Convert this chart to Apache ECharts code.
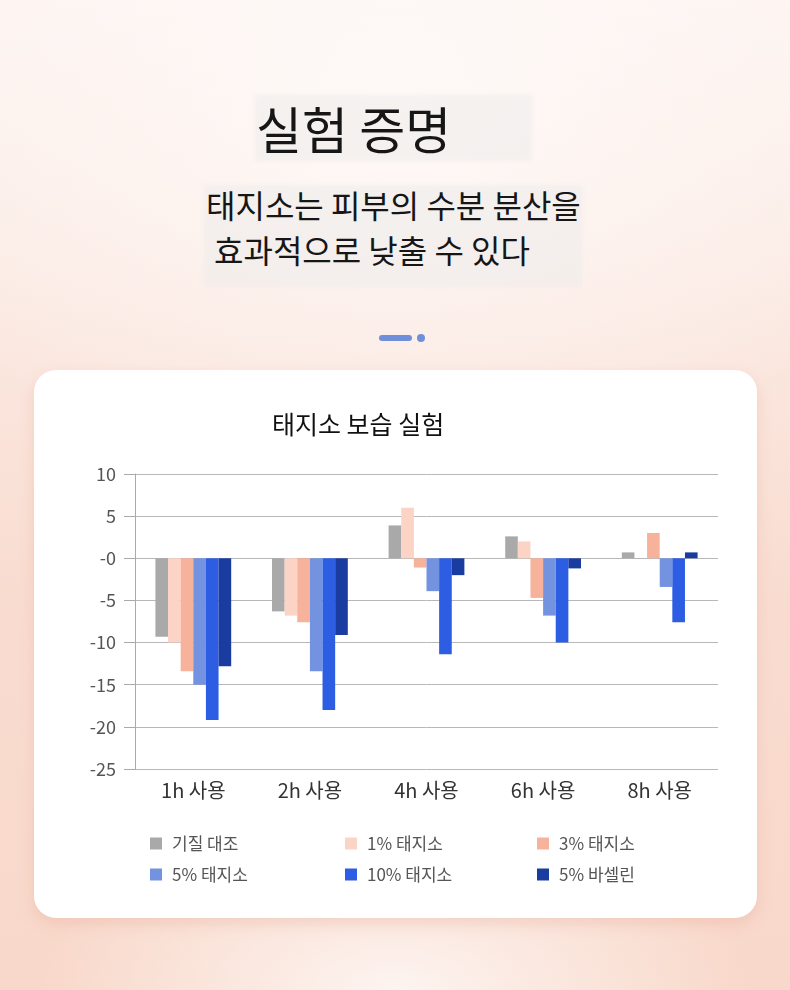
<!DOCTYPE html>
<html><head><meta charset="utf-8">
<script src="https://cdn.jsdelivr.net/npm/echarts@6/dist/echarts.min.js"></script>
<style>
html,body{margin:0;padding:0;width:790px;height:990px;overflow:hidden;}
body{position:relative;font-family:"Noto Sans CJK KR","Noto Sans",sans-serif;
background:
 radial-gradient(ellipse 45% 18% at 50% 100%, rgba(253,244,240,1) 0%, rgba(253,244,240,0) 100%),
 radial-gradient(ellipse 70% 40% at 50% 10%, rgba(254,249,247,1) 0%, rgba(254,249,247,0) 100%),
 linear-gradient(to bottom,#fdf4f1 0%,#fbe9e2 30%,#f9dcd0 60%,#f8d8ca 100%);}
.box{position:absolute;background:rgba(238,236,235,0.6);filter:blur(2px);}
.t{position:absolute;color:#161616;white-space:nowrap;}
#chart{position:absolute;left:34px;top:370px;width:723px;height:548px;background:#fff;border-radius:22px;box-shadow:0 6px 14px rgba(230,170,150,0.35);}
</style></head><body>
<div class="box" style="left:255px;top:95px;width:277px;height:66px;"></div>
<div class="box" style="left:204px;top:185px;width:378px;height:102px;"></div>
<div class="t" style="left:256px;top:94px;font-size:50px;line-height:66px;">실험 증명</div>
<div class="t" style="left:206px;top:183px;font-size:32px;line-height:42px;">태지소는 피부의 수분 분산을</div>
<div class="t" style="left:214px;top:228px;font-size:32px;line-height:42px;">효과적으로 낮출 수 있다</div>
<div style="position:absolute;left:379px;top:335px;width:33px;height:6px;border-radius:3px;background:#6f8fdb;"></div>
<div style="position:absolute;left:417px;top:334px;width:8px;height:8px;border-radius:4px;background:#6f8fdb;"></div>
<div id="chart"></div>
<script>
var categories = ['1h 사용','2h 사용','4h 사용','6h 사용','8h 사용'];
var seriesNames = ['기질 대조','1% 태지소','3% 태지소','5% 태지소','10% 태지소','5% 바셀린'];
var control     = [-9.3, -6.3, 3.9, 2.6, 0.7];
var tz1         = [-10.0, -6.8, 6.0, 2.0, 0];
var tz3         = [-13.4, -7.6, -1.1, -4.7, 3.0];
var tz5         = [-15.0, -13.4, -3.9, -6.8, -3.4];
var tz10        = [-19.2, -18.0, -11.4, -10.0, -7.6];
var vaseline    = [-12.8, -9.1, -2.0, -1.2, 0.7];
var yTicks = {min: -25, max: 10, interval: 5};

var colors = ['#a9a9a9','#fcd4c5','#f6b29b','#7393e0','#2c5de3','#1a3ba0'];
var seriesData = [control, tz1, tz3, tz5, tz10, vaseline];

var chart = echarts.init(document.getElementById('chart'), null, {renderer:'canvas'});
var font = '"Noto Sans CJK KR","Noto Sans",sans-serif';
var legendPos = [[111,460],[306,460],[498,460],[111,491],[306,491],[498,491]];
var legends = seriesNames.map(function(n,i){
  return {data:[n], left: legendPos[i][0], top: legendPos[i][1], icon:'rect',
    itemWidth:12, itemHeight:12, itemGap:0,
    textStyle:{fontFamily:font,fontSize:17,color:'#555',padding:[0,0,0,5]}};
});
chart.setOption({
  animation:false,
  color: colors,
  title:{text:'태지소 보습 실험', left:233, top:37,
    textStyle:{fontFamily:font,fontSize:25,fontWeight:'normal',color:'#111'}},
  legend: legends,
  grid:{left:101,right:39,top:104,bottom:149,containLabel:false},
  xAxis:{type:'category',data:categories,
    axisLine:{show:false},axisTick:{show:false},
    axisLabel:{fontFamily:font,fontSize:20,color:'#333',margin:11}},
  yAxis:{type:'value',min:yTicks.min,max:yTicks.max,interval:yTicks.interval,
    axisLine:{show:true,lineStyle:{color:'#aaa'}},
    axisTick:{show:true,length:11,lineStyle:{color:'#aaa'}},
    splitLine:{lineStyle:{color:'#b8b8b8',width:1}},
    axisLabel:{fontFamily:font,fontSize:18,color:'#555',margin:19,
      formatter:function(v){return v===0?'-0':String(v);}}},
  series: seriesNames.map(function(n,i){
    return {name:n,type:'bar',data:seriesData[i],barGap:'0%',barCategoryGap:'35%',
      itemStyle:{color:colors[i]}};
  })
});
</script>
</body></html>
